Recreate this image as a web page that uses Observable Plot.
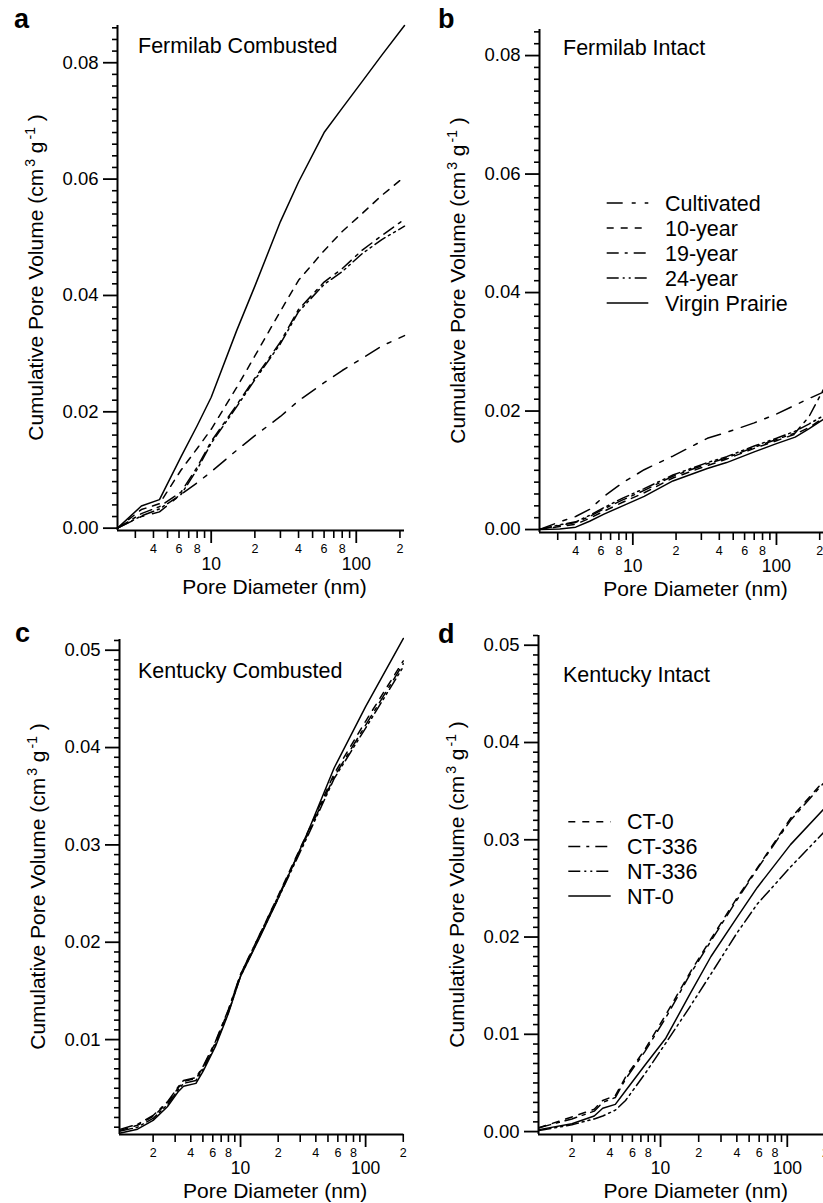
<!DOCTYPE html>
<html><head><meta charset="utf-8">
<script src="https://cdn.jsdelivr.net/npm/d3@7"></script>
<script src="https://cdn.jsdelivr.net/npm/@observablehq/plot@0.6"></script>
<style>
html,body{margin:0;padding:0;background:#fff;overflow:hidden;}
#wrap{position:relative;width:823px;height:1203px;overflow:hidden;background:#fff;}
.panel{position:absolute;}
svg text{font-family:"Liberation Sans",Arial,Helvetica,sans-serif;}
</style></head><body><div id="wrap"></div>
<script>
// ---------- DATA ----------
// Panel a: Fermilab Combusted
const faX = [2.26, 3.3, 4.4, 6.2, 8, 10, 15, 20, 30, 40, 60, 80, 110, 150, 215];
const faCultivated = [0, 0.0020, 0.0028, 0.0058, 0.0078, 0.0097, 0.0134, 0.0159, 0.0192, 0.0219, 0.0250, 0.0271, 0.0292, 0.0313, 0.0331];
const fa10year     = [0, 0.0032, 0.0042, 0.0100, 0.0137, 0.0170, 0.0242, 0.0296, 0.0373, 0.0426, 0.0477, 0.0510, 0.0541, 0.0572, 0.0604];
const fa19year     = [0, 0.0025, 0.0037, 0.0062, 0.0105, 0.0149, 0.0212, 0.0258, 0.0320, 0.0376, 0.0423, 0.0446, 0.0478, 0.0503, 0.0531];
const fa24year     = [0, 0.0021, 0.0033, 0.0058, 0.0101, 0.0146, 0.0209, 0.0255, 0.0317, 0.0372, 0.0419, 0.0441, 0.0472, 0.0496, 0.0519];
const faVirgin     = [0, 0.0038, 0.0049, 0.0123, 0.0176, 0.0225, 0.0340, 0.0416, 0.0527, 0.0595, 0.0680, 0.0722, 0.0768, 0.0813, 0.0864];

// Panel b: Fermilab Intact
const fbX = [2.24, 3.1, 4, 5, 6.3, 8.5, 12, 19, 33, 45, 70, 100, 135, 168, 212];
const fbCultivated = [0, 0.0013, 0.0022, 0.0034, 0.0056, 0.0079, 0.0101, 0.0124, 0.0154, 0.0164, 0.0180, 0.0195, 0.0210, 0.0221, 0.0232];
const fb10year     = [0, 0.0005, 0.0009, 0.0019, 0.0031, 0.0046, 0.0062, 0.0087, 0.0108, 0.0119, 0.0137, 0.0150, 0.0161, 0.0172, 0.0188];
const fb19year     = [0, 0.0007, 0.0012, 0.0022, 0.0035, 0.0050, 0.0066, 0.0090, 0.0111, 0.0121, 0.0139, 0.0152, 0.0163, 0.0190, 0.0236];
const fb24year     = [0, 0.0008, 0.0013, 0.0024, 0.0037, 0.0053, 0.0069, 0.0092, 0.0113, 0.0123, 0.0141, 0.0154, 0.0166, 0.0178, 0.0192];
const fbVirgin     = [0, 0.0001, 0.0004, 0.0014, 0.0026, 0.0040, 0.0056, 0.0082, 0.0103, 0.0113, 0.0131, 0.0145, 0.0156, 0.0170, 0.0186];

// Panel c: Kentucky Combusted
const kcX = [1.1, 1.5, 2, 2.6, 3.2, 3.5, 4.4, 5, 6.3, 8, 10, 14, 20, 35, 56, 100, 200];
const kcCT0   = [0.0007, 0.0012, 0.0021, 0.0035, 0.0051, 0.0057, 0.0060, 0.0071, 0.0097, 0.0130, 0.0167, 0.0206, 0.0248, 0.0315, 0.0373, 0.0427, 0.0489];
const kcCT336 = [0.0008, 0.0013, 0.0022, 0.0036, 0.0052, 0.0058, 0.0061, 0.0072, 0.0098, 0.0131, 0.0167, 0.0206, 0.0247, 0.0313, 0.0370, 0.0423, 0.0486];
const kcNT336 = [0.0006, 0.0010, 0.0019, 0.0033, 0.0049, 0.0055, 0.0058, 0.0069, 0.0095, 0.0128, 0.0165, 0.0204, 0.0245, 0.0311, 0.0368, 0.0420, 0.0483];
const kcNT0   = [0.0004, 0.0008, 0.0017, 0.0031, 0.0047, 0.0052, 0.0055, 0.0067, 0.0093, 0.0127, 0.0165, 0.0203, 0.0245, 0.0315, 0.0379, 0.0442, 0.0512];

// Panel d: Kentucky Intact
const kiX = [1.1, 2, 3, 3.5, 4.4, 5.3, 7.5, 11, 17, 25, 40, 58, 106, 202];
const kiCT0   = [0.0004, 0.0015, 0.0023, 0.0032, 0.0037, 0.0056, 0.0084, 0.0120, 0.0163, 0.0198, 0.0240, 0.0271, 0.0322, 0.0363];
const kiCT336 = [0.0004, 0.0013, 0.0021, 0.0030, 0.0035, 0.0054, 0.0082, 0.0117, 0.0161, 0.0196, 0.0238, 0.0270, 0.0320, 0.0361];
const kiNT336 = [0.0001, 0.0007, 0.0013, 0.0016, 0.0022, 0.0032, 0.0059, 0.0091, 0.0128, 0.0162, 0.0204, 0.0234, 0.0272, 0.0310];
const kiNT0   = [0.0002, 0.0008, 0.0016, 0.0024, 0.0028, 0.0042, 0.0068, 0.0096, 0.0141, 0.0180, 0.0220, 0.0251, 0.0295, 0.0334];

// Tick values and labels
const fermiYMajor = [0, 0.02, 0.04, 0.06, 0.08];
const kentYMajorC = [0.01, 0.02, 0.03, 0.04, 0.05];
const kentYMajorD = [0, 0.01, 0.02, 0.03, 0.04, 0.05];
const xMajor = [10, 100];
const xMinorFermi = [3,4,5,6,7,8,9,20,30,40,50,60,70,80,90,200];
const xMinorKent  = [2,3,4,5,6,7,8,9,20,30,40,50,60,70,80,90,200];
const xLabeledFermi = [4,6,8,20,40,60,80,200];
const xLabeledKent  = [2,4,6,8,20,40,60,80,200];
const fermiLegend = ["Cultivated", "10-year", "19-year", "24-year", "Virgin Prairie"];
const kentLegend = ["CT-0", "CT-336", "NT-336", "NT-0"];
const xTitle = "Pore Diameter (nm)";

// ---------- STYLES ----------
const DASH = {
  longShort: "16,9,4,9",
  dashed: "7,7",
  dashDot: "12,6,3,6",
  dashDotDot: "12,4,2,4,2,4",
  solid: null
};
const FONT = '"Liberation Sans", Arial, Helvetica, sans-serif';

function minorRange(step, max, majors) {
  const out = [];
  for (let i = 0; i * step <= max + 1e-9; i++) {
    const v = +(i * step).toFixed(4);
    if (!majors.some(m => Math.abs(m - v) < 1e-9)) out.push(v);
  }
  return out;
}

function panel(cfg) {
  const wrap = document.getElementById("wrap");
  const div = document.createElement("div");
  div.className = "panel";
  div.style.left = cfg.left + "px";
  div.style.top = cfg.top + "px";
  div.style.width = cfg.width + "px";
  div.style.height = cfg.height + "px";
  wrap.appendChild(div);

  const marks = [];
  marks.push(Plot.axisY({ticks: cfg.yMinor, tickSize: 5, tickFormat: () => "", strokeWidth: 1.6, label: null}));
  marks.push(Plot.axisY({ticks: cfg.yMajor, tickSize: 14, tickPadding: 5, tickFormat: d3.format(".2f"), fontSize: 18.5, strokeWidth: 1.8, label: null}));
  marks.push(Plot.axisX({ticks: cfg.xMinor, tickSize: 8, tickFormat: () => "", strokeWidth: 1.6, label: null}));
  marks.push(Plot.axisX({ticks: xMajor, tickSize: 13, tickPadding: 14, tickFormat: d => String(d), fontSize: 17.5, strokeWidth: 1.8, label: null}));
  // small mantissa labels under the minor ticks
  marks.push(Plot.text(cfg.xLabeled, {x: d => d, text: d => String(d)[0], frameAnchor: "bottom", lineAnchor: "top", dy: 14, fontSize: 12.5, fill: "#000"}));
  for (const s of cfg.series) {
    const data = cfg.xs.map((x, i) => ({x, y: s.y[i]}));
    marks.push(Plot.line(data, {x: "x", y: "y", stroke: "#000", strokeWidth: 1.5, strokeDasharray: s.dash}));
  }
  marks.push(Plot.ruleX([cfg.xDomain[0]], {strokeWidth: 2, stroke: "#000"}));
  marks.push(Plot.ruleY([cfg.yDomain[0]], {strokeWidth: 2, stroke: "#000"}));

  const svg = Plot.plot({
    width: cfg.width, height: cfg.height,
    marginLeft: cfg.mL, marginRight: cfg.mR, marginTop: cfg.mT, marginBottom: cfg.mB,
    x: {type: "log", domain: cfg.xDomain, label: null},
    y: {domain: cfg.yDomain, label: null},
    style: {fontFamily: FONT, fontSize: "12px", color: "#000", background: "transparent", maxWidth: "none", overflow: "visible"},
    marks
  });
  div.appendChild(svg);

  const sel = d3.select(svg);
  const plotBottom = cfg.height - cfg.mB;
  const plotMidY = cfg.mT + (plotBottom - cfg.mT) / 2;
  const plotMidX = cfg.mL + (cfg.width - cfg.mR - cfg.mL) / 2;

  // panel letter
  sel.append("text").attr("x", cfg.letterX).attr("y", cfg.letterY).attr("text-anchor", "start")
    .attr("font-size", 27).attr("font-weight", "bold").attr("fill", "#000").text(cfg.letter);
  // panel title
  sel.append("text").attr("x", cfg.titleX).attr("y", cfg.titleY).attr("text-anchor", "start")
    .attr("font-size", 21.5).attr("fill", "#000").text(cfg.title);
  // y label
  const yl = sel.append("text")
    .attr("transform", `translate(${cfg.yLabelX},${plotMidY}) rotate(-90)`)
    .attr("text-anchor", "middle").attr("font-size", 21).attr("fill", "#000");
  yl.append("tspan").text("Cumulative Pore Volume (cm");
  yl.append("tspan").attr("dy", -8).attr("dx", 2).attr("font-size", 14).text("3");
  yl.append("tspan").attr("dy", 8).text(" g");
  yl.append("tspan").attr("dy", -8).attr("dx", 2).attr("font-size", 14).text("-1");
  yl.append("tspan").attr("dy", 8).text(" )");
  // x title
  sel.append("text").attr("x", plotMidX + 14).attr("y", plotBottom + 64.3)
    .attr("text-anchor", "middle").attr("font-size", 21).attr("fill", "#000").text(xTitle);

  // legend
  if (cfg.legend) {
    const L = cfg.legend;
    L.items.forEach((name, i) => {
      const y = L.y0 + i * L.dy;
      const line = sel.append("line").attr("x1", L.x1).attr("x2", L.x2).attr("y1", y).attr("y2", y)
        .attr("stroke", "#000").attr("stroke-width", 1.5);
      if (L.dashes[i]) line.attr("stroke-dasharray", L.dashes[i]);
      sel.append("text").attr("x", L.tx).attr("y", y + 7.7).attr("text-anchor", "start")
        .attr("font-size", 21.5).attr("fill", "#000").text(name);
    });
  }
}

const fermiDashes = [DASH.longShort, DASH.dashed, DASH.dashDot, DASH.dashDotDot, DASH.solid];
const kentDashes = [DASH.dashed, DASH.dashDot, DASH.dashDotDot, DASH.solid];

// a
panel({
  left: 0, top: 0, width: 410, height: 600, mL: 117, mR: 6, mT: 25, mB: 70,
  xDomain: [2.26, 215], yDomain: [-0.0004, 0.0864],
  yMajor: fermiYMajor, yMinor: minorRange(0.002, 0.086, fermiYMajor),
  xMinor: xMinorFermi, xLabeled: xLabeledFermi,
  xs: faX,
  series: [
    {y: faCultivated, dash: DASH.longShort},
    {y: fa10year, dash: DASH.dashed},
    {y: fa19year, dash: DASH.dashDot},
    {y: fa24year, dash: DASH.dashDotDot},
    {y: faVirgin, dash: DASH.solid}
  ],
  letter: "a", letterX: 14, letterY: 28,
  title: "Fermilab Combusted", titleX: 138, titleY: 52.7,
  yLabelX: 43
});

// b
panel({
  left: 410, top: 0, width: 420, height: 600, mL: 129, mR: 6, mT: 29, mB: 68,
  xDomain: [2.24, 216], yDomain: [-0.0005, 0.0844],
  yMajor: fermiYMajor, yMinor: minorRange(0.002, 0.084, fermiYMajor),
  xMinor: xMinorFermi, xLabeled: xLabeledFermi,
  xs: fbX,
  series: [
    {y: fbCultivated, dash: DASH.longShort},
    {y: fb10year, dash: DASH.dashed},
    {y: fb19year, dash: DASH.dashDot},
    {y: fb24year, dash: DASH.dashDotDot},
    {y: fbVirgin, dash: DASH.solid}
  ],
  letter: "b", letterX: 28, letterY: 28,
  title: "Fermilab Intact", titleX: 153, titleY: 55,
  yLabelX: 55,
  legend: {items: fermiLegend, dashes: fermiDashes, x1: 196.7, x2: 238.3, tx: 255, y0: 203, dy: 25}
});

// c
panel({
  left: 0, top: 600, width: 410, height: 604, mL: 119, mR: 6.7, mT: 39, mB: 70,
  xDomain: [1.077, 202], yDomain: [0.00025, 0.0511],
  yMajor: kentYMajorC, yMinor: minorRange(0.001, 0.051, kentYMajorC.concat([0])),
  xMinor: xMinorKent, xLabeled: xLabeledKent,
  xs: kcX,
  series: [
    {y: kcCT0, dash: DASH.dashed},
    {y: kcCT336, dash: DASH.dashDot},
    {y: kcNT336, dash: DASH.dashDotDot},
    {y: kcNT0, dash: DASH.solid}
  ],
  letter: "c", letterX: 15, letterY: 42,
  title: "Kentucky Combusted", titleX: 138, titleY: 78,
  yLabelX: 45
});

// d
panel({
  left: 410, top: 600, width: 420, height: 604, mL: 128, mR: 4.5, mT: 35, mB: 70,
  xDomain: [1.09, 202], yDomain: [-0.0003, 0.0510],
  yMajor: kentYMajorD, yMinor: minorRange(0.001, 0.051, kentYMajorD),
  xMinor: xMinorKent, xLabeled: xLabeledKent,
  xs: kiX,
  series: [
    {y: kiCT0, dash: DASH.dashed},
    {y: kiCT336, dash: DASH.dashDot},
    {y: kiNT336, dash: DASH.dashDotDot},
    {y: kiNT0, dash: DASH.solid}
  ],
  letter: "d", letterX: 28, letterY: 43,
  title: "Kentucky Intact", titleX: 153, titleY: 82,
  yLabelX: 54,
  legend: {items: kentLegend, dashes: kentDashes, x1: 158.3, x2: 200.7, tx: 217, y0: 221.7, dy: 24.8}
});
</script>
</body></html>
